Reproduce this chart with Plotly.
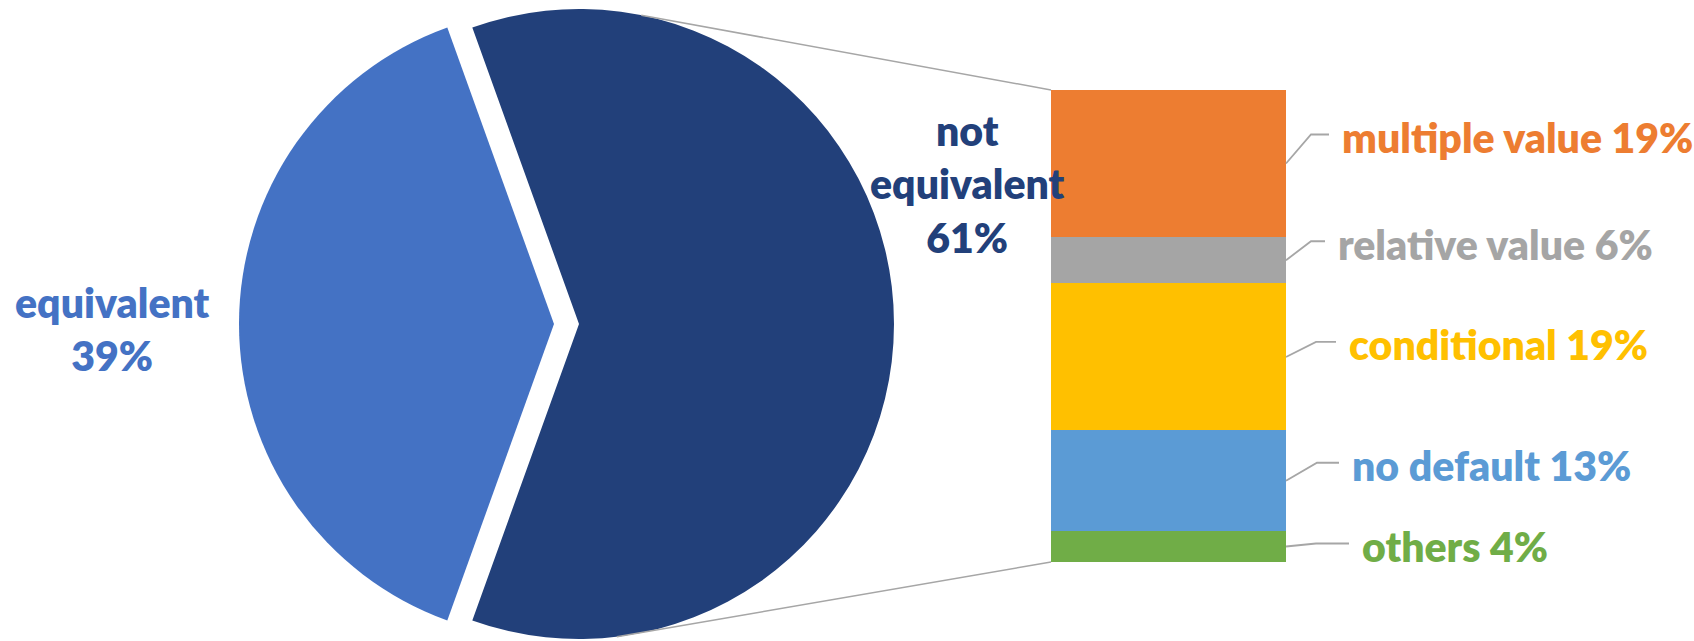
import math
import plotly.graph_objects as go

# Overall split (pie)
pie_labels = ["not equivalent", "equivalent"]
pie_values = [61, 39]
pie_colors = ["#22407A", "#4472C4"]

# Breakdown of the "not equivalent" share (stacked bar), listed top to bottom
bar_labels = ["multiple value", "relative value", "conditional", "no default", "others"]
bar_values = [19, 6, 19, 13, 4]
bar_colors = ["#ED7D31", "#A5A5A5", "#FFC000", "#5B9BD5", "#70AD47"]

W, H = 1694, 641
FONT = "Lato"
FS = 41
WEIGHT = 800
LINE_GREY = "#A6A6A6"
CLEAR = "rgba(0,0,0,0)"

# ---- pie geometry (pixels) ----
PIE_CX, PIE_CY, PIE_R = 579, 324, 315
PULL_PX = 25                      # the "equivalent" wedge is pushed out to the left
CONNECT_ANGLES = [11.4, 173.1]    # where the connector lines leave the pie (deg clockwise from 12 o'clock)

# ---- bar geometry (pixels) ----
BAR_X0, BAR_X1 = 1051, 1286
BAR_TOP, BAR_BOT = 90, 562

# leader-line styling for the bar labels (pixels)
lead_rise = [29, 19, 15, 18, 3]
lead_elbow = [25, 25, 30, 31, 30]
lead_end = [43, 39, 50, 53, 63]
LABEL_GAP = 11

total_pie = sum(pie_values)
total_bar = sum(bar_values)
# centre the first wedge on 3 o'clock
rotation = 90 - pie_values[0] / total_pie * 360 / 2


def pie_domain(cx):
    return dict(
        x=[(cx - PIE_R) / W, (cx + PIE_R) / W],
        y=[(H - PIE_CY - PIE_R) / H, (H - PIE_CY + PIE_R) / H],
    )


fig = go.Figure()

# main wedge
fig.add_trace(go.Pie(
    labels=pie_labels, values=pie_values, sort=False, direction="clockwise",
    rotation=rotation, textinfo="none", showlegend=False,
    marker=dict(colors=[pie_colors[0], CLEAR], line=dict(width=0)),
    domain=pie_domain(PIE_CX),
))
# exploded wedge
fig.add_trace(go.Pie(
    labels=pie_labels, values=pie_values, sort=False, direction="clockwise",
    rotation=rotation, textinfo="none", showlegend=False,
    marker=dict(colors=[CLEAR, pie_colors[1]], line=dict(width=0)),
    domain=pie_domain(PIE_CX - PULL_PX),
))

# stacked bar: bottom segment first
for lab, val, col in reversed(list(zip(bar_labels, bar_values, bar_colors))):
    fig.add_trace(go.Bar(
        x=[0], y=[val], name=lab, width=1, marker=dict(color=col, line=dict(width=0)),
        showlegend=False, hovertemplate=f"{lab}: {val}%<extra></extra>",
    ))

ux = 1 / (BAR_X1 - BAR_X0)             # data units per pixel (x)
uy = total_bar / (BAR_BOT - BAR_TOP)    # data units per pixel (y)

annotations = []
above = 0
for i, (lab, val, col) in enumerate(zip(bar_labels, bar_values, bar_colors)):
    mid = total_bar - above - val / 2
    above += val
    ye = mid + lead_rise[i] * uy
    fig.add_trace(go.Scatter(
        x=[0.5, 0.5 + lead_elbow[i] * ux, 0.5 + lead_end[i] * ux],
        y=[mid, ye, ye], mode="lines", line=dict(color=LINE_GREY, width=1.8),
        hoverinfo="skip", showlegend=False, cliponaxis=False,
    ))
    annotations.append(dict(
        x=0.5 + (lead_end[i] + LABEL_GAP) * ux, y=ye, xref="x", yref="y",
        xanchor="left", yanchor="middle", yshift=-3, showarrow=False,
        text=f"{lab} {val}%", font=dict(family=FONT, size=FS, color=col, weight=WEIGHT),
    ))

# pie labels
annotations.append(dict(
    x=112 / W, y=1 - 329 / H, xref="paper", yref="paper", showarrow=False,
    xanchor="center", yanchor="middle", align="center",
    text=f"{pie_labels[1]}<br>{pie_values[1]}%",
    font=dict(family=FONT, size=FS, color=pie_colors[1], weight=WEIGHT),
))
annotations.append(dict(
    x=967 / W, y=1 - 184 / H, xref="paper", yref="paper", showarrow=False,
    xanchor="center", yanchor="middle", align="center",
    text="not<br>equivalent<br>" + f"{pie_values[0]}%",
    font=dict(family=FONT, size=FS, color=pie_colors[0], weight=WEIGHT),
))

# connector lines from the pie to the bar corners
shapes = []
for ang, by in zip(CONNECT_ANGLES, [BAR_TOP, BAR_BOT]):
    a = math.radians(ang)
    px = PIE_CX + PIE_R * math.sin(a)
    py = PIE_CY - PIE_R * math.cos(a)
    shapes.append(dict(
        type="line", xref="paper", yref="paper",
        x0=px / W, y0=1 - py / H, x1=BAR_X0 / W, y1=1 - by / H,
        line=dict(color=LINE_GREY, width=1.5),
    ))

fig.update_layout(
    width=W, height=H, margin=dict(l=0, r=0, t=0, b=0),
    paper_bgcolor="white", plot_bgcolor="rgba(0,0,0,0)",
    barmode="stack", bargap=0,
    xaxis=dict(domain=[BAR_X0 / W, 1], range=[-0.5, -0.5 + (W - BAR_X0) * ux],
               visible=False, fixedrange=True),
    yaxis=dict(domain=[1 - BAR_BOT / H, 1 - BAR_TOP / H], range=[0, total_bar],
               visible=False, fixedrange=True),
    annotations=annotations, shapes=shapes,
    font=dict(family=FONT),
)

fig.write_html("out.html")
